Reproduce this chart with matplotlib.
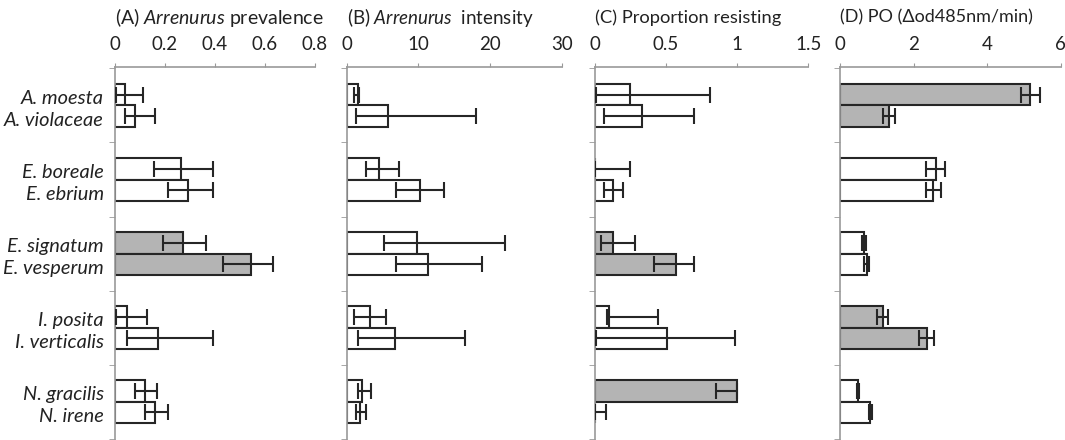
import matplotlib.pyplot as plt
import numpy as np

plt.rcParams['font.family'] = ['Lato', 'DejaVu Sans']

species = ["A. moesta", "A. violaceae", "E. boreale", "E. ebrium", "E. signatum",
           "E. vesperum", "I. posita", "I. verticalis", "N. gracilis", "N. irene"]

# (A) prevalence
prev = [0.04, 0.081, 0.264, 0.29, 0.27, 0.543, 0.047, 0.172, 0.118, 0.158]
prev_lo = [0.004, 0.039, 0.157, 0.21, 0.19, 0.431, 0.004, 0.047, 0.079, 0.118]
prev_hi = [0.11, 0.158, 0.391, 0.391, 0.362, 0.631, 0.129, 0.391, 0.168, 0.21]
prev_gray = [0, 0, 0, 0, 1, 1, 0, 0, 0, 0]

# (B) intensity
inten = [1.63, 5.72, 4.51, 10.28, 9.77, 11.4, 3.26, 6.7, 2.09, 1.86]
inten_lo = [1.07, 1.3, 2.7, 6.88, 5.2, 6.88, 1.02, 1.53, 1.53, 1.3]
inten_hi = [1.72, 18.1, 7.35, 13.63, 22.1, 18.9, 5.44, 16.5, 3.44, 2.74]
inten_gray = [0] * 10

# (C) proportion resisting
resist = [0.248, 0.335, 0.0, 0.129, 0.129, 0.569, 0.103, 0.505, 1.0, 0.0]
resist_lo = [0.007, 0.066, 0.0, 0.066, 0.042, 0.417, 0.089, 0.007, 0.854, 0.0]
resist_hi = [0.807, 0.697, 0.248, 0.197, 0.286, 0.697, 0.445, 0.988, 1.0, 0.077]
resist_gray = [0, 0, 0, 0, 1, 1, 0, 0, 1, 0]

# (D) PO
po = [5.18, 1.32, 2.62, 2.54, 0.65, 0.73, 1.17, 2.37, 0.5, 0.83]
po_lo = [4.91, 1.16, 2.33, 2.33, 0.6, 0.66, 1.02, 2.15, 0.45, 0.79]
po_hi = [5.44, 1.5, 2.86, 2.76, 0.71, 0.8, 1.3, 2.57, 0.53, 0.88]
po_gray = [1, 1, 0, 0, 0, 0, 1, 1, 0, 0]

panels = [
    ([prev, prev_lo, prev_hi, prev_gray], 0.8, [0, 0.2, 0.4, 0.6, 0.8], ["0", "0.2", "0.4", "0.6", "0.8"],
     "(A) $\\mathit{Arrenurus}$ prevalence", 14.0, [0.108, 0, 0.1878, 0.8477]),
    ([inten, inten_lo, inten_hi, inten_gray], 30, [0, 10, 20, 30], ["0", "10", "20", "30"],
     "(B) $\\mathit{Arrenurus}$  intensity", 13.5, [0.3255, 0, 0.2019, 0.8477]),
    ([resist, resist_lo, resist_hi, resist_gray], 1.5, [0, 0.5, 1, 1.5], ["0", "0.5", "1", "1.5"],
     "(C) Proportion resisting", 13.2, [0.5584, 0, 0.2006, 0.8477]),
    ([po, po_lo, po_hi, po_gray], 6, [0, 2, 4, 6], ["0", "2", "4", "6"],
     "(D) PO (Δod485nm/min)", 13, [0.7887, 0, 0.2072, 0.8477]),
]

plt.rcParams['mathtext.fontset'] = 'custom'
plt.rcParams['mathtext.it'] = 'Lato:italic'
plt.rcParams['mathtext.rm'] = 'Lato'

fig = plt.figure(figsize=(10.65, 4.4), dpi=100)

bar_h = 0.295
ypos = np.array([g + 0.5 + s * bar_h / 2 for g in range(5) for s in (-1, 1)])

for i, (d, xmax, xt, xtl, title, tsize, rect) in enumerate(panels):
    ax = fig.add_axes(rect)
    vals, lo, hi, gray = [np.array(a, dtype=float) for a in d]
    colors = ['#b4b4b4' if g else 'white' for g in gray]
    ax.barh(ypos, vals, height=bar_h, color=colors, edgecolor='#262626', linewidth=1.5, zorder=2)
    ax.errorbar(vals, ypos, xerr=[vals - lo, hi - vals], fmt='none', ecolor='#262626',
                elinewidth=1.5, capsize=6, capthick=1.5, zorder=3)
    ax.set_xlim(0, xmax)
    ax.set_ylim(5.02, -0.02)
    ax.xaxis.tick_top()
    ax.set_xticks(xt)
    ax.set_xticklabels(xtl, fontsize=13.5, color='#222222')
    ax.tick_params(axis='x', direction='out', length=3, color='#999999', pad=7)
    ax.set_yticks(np.arange(0, 6), minor=True)
    ax.tick_params(axis='y', which='minor', direction='out', length=4, color='#999999')
    if i == 0:
        ax.set_yticks(ypos + 0.03)
        ax.set_yticklabels(species, fontsize=14.4, style='italic', color='#222222')
    else:
        ax.set_yticks([])
    ax.tick_params(axis='y', which='major', length=0, pad=8)
    for s in ['right', 'bottom']:
        ax.spines[s].set_visible(False)
    for s in ['top', 'left']:
        ax.spines[s].set_color('#999999')
        ax.spines[s].set_linewidth(1.2)
    ax.set_facecolor('none')
    fig.text(rect[0], 0.96, title, fontsize=tsize, color='#222222', ha='left', va='center')

fig.savefig("out.png", dpi=100)
